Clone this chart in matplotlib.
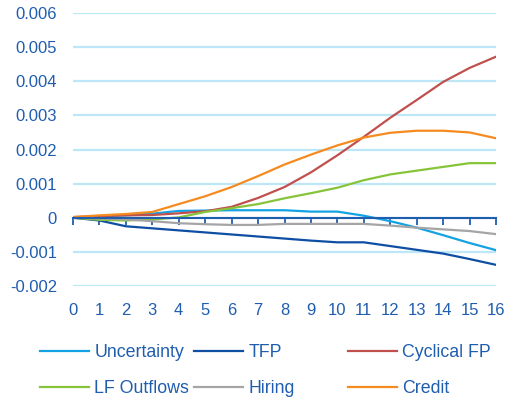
import numpy as np
import matplotlib
matplotlib.use('Agg')
import matplotlib.pyplot as plt

plt.rcParams['font.family'] = ['Liberation Sans', 'DejaVu Sans']

# horizon (quarters) and responses, in units of 1e-3
quarters = list(range(17))
uncertainty = [0, 0.04, 0.07, 0.12, 0.2, 0.21, 0.22, 0.22, 0.22, 0.18, 0.18, 0.06, -0.1, -0.29, -0.51, -0.74, -0.95]
tfp = [0, -0.08, -0.25, -0.31, -0.37, -0.43, -0.49, -0.55, -0.61, -0.67, -0.72, -0.72, -0.83, -0.94, -1.05, -1.21, -1.38]
cyclical_fp = [0.02, 0.05, 0.07, 0.08, 0.13, 0.19, 0.32, 0.58, 0.9, 1.33, 1.83, 2.37, 2.93, 3.45, 3.98, 4.39, 4.72]
lf_outflows = [0, -0.06, -0.08, -0.05, 0.01, 0.17, 0.28, 0.4, 0.57, 0.72, 0.88, 1.1, 1.27, 1.38, 1.49, 1.6, 1.6]
hiring = [0, -0.02, -0.05, -0.1, -0.16, -0.19, -0.21, -0.21, -0.18, -0.18, -0.18, -0.18, -0.23, -0.29, -0.34, -0.39, -0.48]
credit = [0.02, 0.07, 0.11, 0.17, 0.4, 0.63, 0.9, 1.22, 1.56, 1.85, 2.12, 2.35, 2.49, 2.55, 2.55, 2.5, 2.33]

ytick_vals = [-0.002, -0.001, 0, 0.001, 0.002, 0.003, 0.004, 0.005, 0.006]
ytick_labels = ['-0.002', '-0.001', '0', '0.001', '0.002', '0.003', '0.004', '0.005', '0.006']

txt = '#1F5DAF'
grid_c = '#BDE6F7'
fs = 12
leg_fs = 12.8

series = [
    ('Uncertainty', uncertainty, '#13A2E3'),
    ('TFP', tfp, '#0E4FA3'),
    ('Cyclical FP', cyclical_fp, '#C0504D'),
    ('LF Outflows', lf_outflows, '#86C43A'),
    ('Hiring', hiring, '#A5A5A5'),
    ('Credit', credit, '#F58B1F'),
]

fig = plt.figure(figsize=(5.08, 3.98), dpi=100)
ax = fig.add_axes([73/508, 1-286/398, (496-73)/508, (286-13)/398])

handles = {}
for name, vals, col in series:
    h, = ax.plot(quarters, np.array(vals) * 1e-3, color=col, lw=1.6, label=name)
    handles[name] = h

ax.set_xlim(0, 16)
ax.set_ylim(-0.002, 0.006)
ax.set_yticks(ytick_vals)
ax.set_yticklabels(ytick_labels)
ax.yaxis.grid(True, color=grid_c, lw=1.6)
ax.set_axisbelow(True)
ax.tick_params(axis='y', length=0, pad=11.5, labelsize=fs, labelcolor=txt)

for s in ['top', 'right', 'left']:
    ax.spines[s].set_visible(False)
ax.spines['bottom'].set_position(('data', 0))
ax.spines['bottom'].set_color('#1F5DAF')
ax.spines['bottom'].set_linewidth(1.5)
ax.set_xticks(quarters)
ax.tick_params(axis='x', direction='out', length=5, width=1.3, color='#1F5DAF', labelbottom=False)

# x labels sit at the bottom of the plot, not on the zero line
sec = ax.secondary_xaxis('bottom')
sec.set_xticks(quarters)
sec.spines['bottom'].set_visible(False)
sec.tick_params(length=0, pad=12, labelsize=fs, labelcolor=txt)

cols = [(['Uncertainty', 'LF Outflows'], 40), (['TFP', 'Hiring'], 194), (['Cyclical FP', 'Credit'], 348)]
for names, x0 in cols:
    fig.legend([handles[n] for n in names], names, loc='upper left',
               bbox_to_anchor=(x0/508, 1-344/398), frameon=False, borderpad=0,
               borderaxespad=0, handlelength=2.75, handletextpad=0.3,
               labelspacing=1.08, fontsize=leg_fs, labelcolor=txt)

fig.savefig('out.png', dpi=100)
